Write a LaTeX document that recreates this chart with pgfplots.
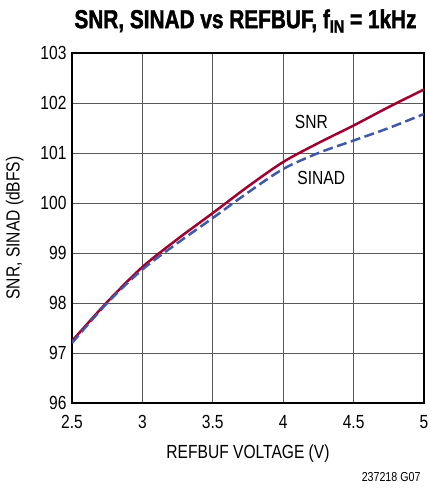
\documentclass[border=0pt]{standalone}
\usepackage{pgfplots}
\pgfplotsset{compat=1.18}
\usepackage{fontspec}
\setmainfont{Liberation Sans}[FakeStretch=0.82]
\newfontfamily\titlefont{Liberation Sans}[FakeStretch=0.8, BoldFont={* Bold}, BoldFeatures={FakeBold=1.5}]
\definecolor{snrred}{HTML}{A0002E}
\definecolor{sinadblue}{HTML}{3F58A8}
\begin{document}
\begin{tikzpicture}[x=1pt,y=1pt]
\path[use as bounding box] (0,0) rectangle (430,488);
\begin{axis}[
  at={(72pt,85pt)}, anchor=south west,
  scale only axis, width=352pt, height=350pt,
  xmin=2.5, xmax=5, ymin=96, ymax=103,
  xtick={2.5,3,...,5}, ytick={96,97,...,103},
  xticklabels={2.5,3,3.5,4,4.5,5},
  grid=major,
  major grid style={draw=black!65, line width=0.9pt},
  axis line style={line width=1.2pt},
  tick style={draw=none},
  /pgf/number format/assume math mode=true,
  ticklabel style={font=\fontsize{19}{19}\selectfont},
  xticklabel style={yshift=-9pt},
  yticklabel style={xshift=-2pt},
  xlabel={REFBUF VOLTAGE (V)},
  ylabel={SNR, SINAD (dBFS)},
  label style={font=\fontsize{19}{19}\selectfont},
  xlabel style={yshift=-9pt},
  ylabel style={yshift=10pt},
]
\addplot[snrred, line width=2.5pt, smooth] coordinates {
(2.5,97.24) (2.75,98.02) (3,98.72) (3.25,99.28) (3.5,99.8) (3.75,100.33) (4,100.82) (4.25,101.2) (4.5,101.55) (4.75,101.92) (5,102.27)};
\addplot[sinadblue, line width=2.5pt, smooth, dash pattern=on 10pt off 4.5pt] coordinates {
(2.5,97.2) (2.75,98.0) (3,98.67) (3.25,99.2) (3.5,99.7) (3.75,100.21) (4,100.68) (4.25,101.0) (4.5,101.25) (4.75,101.5) (5,101.78)};
\node[font=\fontsize{19}{19}\selectfont] at (axis cs:4.2,101.62) {SNR};
\node[font=\fontsize{19}{19}\selectfont] at (axis cs:4.27,100.5) {SINAD};
\end{axis}
\node[font=\titlefont\fontsize{26}{26}\selectfont\bfseries] at (245.5,467) {SNR, SINAD vs REFBUF, f\lower4.5pt\hbox{\fontsize{18}{18}\selectfont\bfseries IN} = 1kHz};
\node[font=\fontsize{13}{13}\selectfont, anchor=east] at (424,11) {237218 G07};
\end{tikzpicture}
\end{document}
